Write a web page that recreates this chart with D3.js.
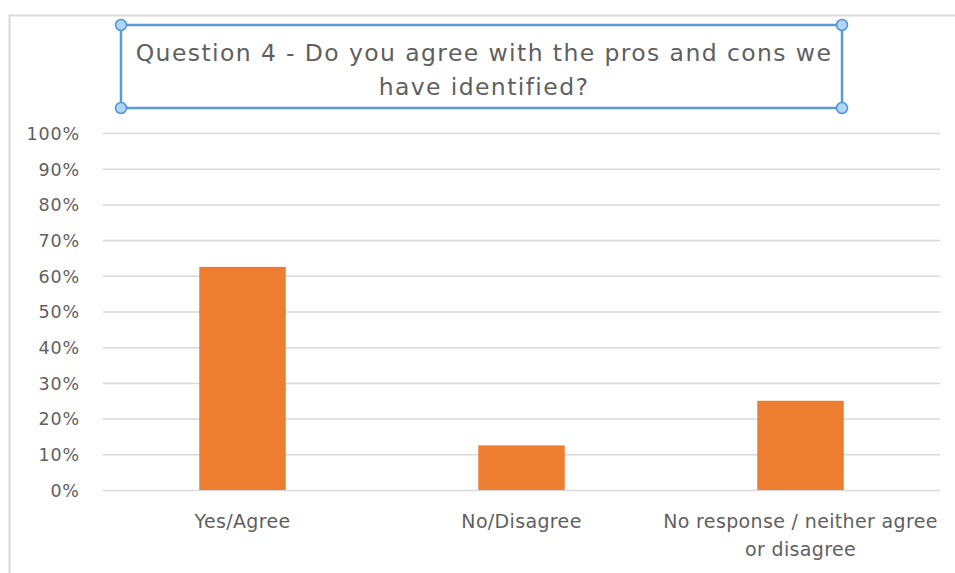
<!DOCTYPE html>
<html>
<head>
<meta charset="utf-8">
<script src="https://cdn.jsdelivr.net/npm/d3@7"></script>
<style>
  html, body { margin: 0; padding: 0; background: #ffffff; }
  svg { display: block; }
</style>
</head>
<body>
<svg id="chart" width="955" height="573"></svg>
<script>
// Survey responses, Question 4
const categories = ["Yes/Agree", "No/Disagree", "No response / neither agree or disagree"];
const shares = [0.625, 0.125, 0.25];
const tickValues = [0, 0.1, 0.2, 0.3, 0.4, 0.5, 0.6, 0.7, 0.8, 0.9, 1.0];
const titleLines = ["Question 4 - Do you agree with the pros and cons we", "have identified?"];

const svg = d3.select("#chart");
const W = 955, H = 573;
const plot = { left: 103, right: 940, top: 133, bottom: 490 };
const textColor = "#5f5f5f";
const font = "'DejaVu Sans', sans-serif";

// chart area frame (left and top edges)
svg.append("path")
  .attr("d", `M9.5,${H} V15.5 H${W}`)
  .attr("fill", "none")
  .attr("stroke", "#d9d9d9")
  .attr("stroke-width", 2);

const x = d3.scaleBand().domain(categories).range([plot.left, plot.right]).padding(0);
const y = d3.scaleLinear().domain([0, 1]).range([plot.bottom, plot.top]);

// gridlines + y labels
const yAxis = d3.axisLeft(y)
  .tickValues(tickValues)
  .tickFormat(d3.format(".0%"))
  .tickSize(-(plot.right - plot.left))
  .tickPadding(23.2);

const gy = svg.append("g")
  .attr("transform", `translate(${plot.left},0)`)
  .call(yAxis);
gy.select(".domain").remove();
gy.selectAll(".tick line").attr("stroke", "#d9d9d9").attr("stroke-width", 1.5);
gy.selectAll(".tick text")
  .attr("fill", textColor)
  .attr("font-family", font)
  .attr("font-size", 17.5)
  .attr("letter-spacing", 0.8)
  .attr("dy", "0.36em");

// bars
const barW = x.bandwidth() * 0.31;
svg.append("g").selectAll("rect")
  .data(categories)
  .join("rect")
  .attr("x", (d) => x(d) + x.bandwidth() / 2 - barW / 2)
  .attr("y", (d, i) => y(shares[i]))
  .attr("width", barW)
  .attr("height", (d, i) => y(0) - y(shares[i]))
  .attr("fill", "#ED7D31");

// category labels (wrapped)
const wrapLines = {
  "No response / neither agree or disagree": ["No response / neither agree", "or disagree"]
};
const gx = svg.append("g");
categories.forEach((c) => {
  const lines = wrapLines[c] || [c];
  const cx = x(c) + x.bandwidth() / 2;
  const t = gx.append("text")
    .attr("y", 528)
    .attr("text-anchor", "middle")
    .attr("fill", textColor)
    .attr("font-family", font)
    .attr("font-size", 19)
    .attr("letter-spacing", 0.35);
  lines.forEach((ln, i) => {
    t.append("tspan")
      .attr("x", cx)
      .attr("dy", i === 0 ? 0 : 28)
      .text(ln);
  });
});

// title with selection frame
const box = { x0: 121, y0: 25, x1: 842, y1: 108 };
svg.append("rect")
  .attr("x", box.x0).attr("y", box.y0)
  .attr("width", box.x1 - box.x0).attr("height", box.y1 - box.y0)
  .attr("fill", "none")
  .attr("stroke", "#5b9bd5")
  .attr("stroke-width", 2.5);

const title = svg.append("text")
  .attr("text-anchor", "middle")
  .attr("fill", textColor)
  .attr("font-family", font)
  .attr("font-size", 23.5)
  .attr("letter-spacing", 1.4);
titleLines.forEach((ln, i) => {
  title.append("tspan")
    .attr("x", 484)
    .attr("y", 61 + i * 34)
    .text(ln);
});

svg.append("g").selectAll("circle")
  .data([[box.x0, box.y0], [box.x1, box.y0], [box.x0, box.y1], [box.x1, box.y1]])
  .join("circle")
  .attr("cx", (d) => d[0]).attr("cy", (d) => d[1])
  .attr("r", 5.5)
  .attr("fill", "#b4d4f3")
  .attr("stroke", "#4a94dc")
  .attr("stroke-width", 1.5);
</script>
</body>
</html>
